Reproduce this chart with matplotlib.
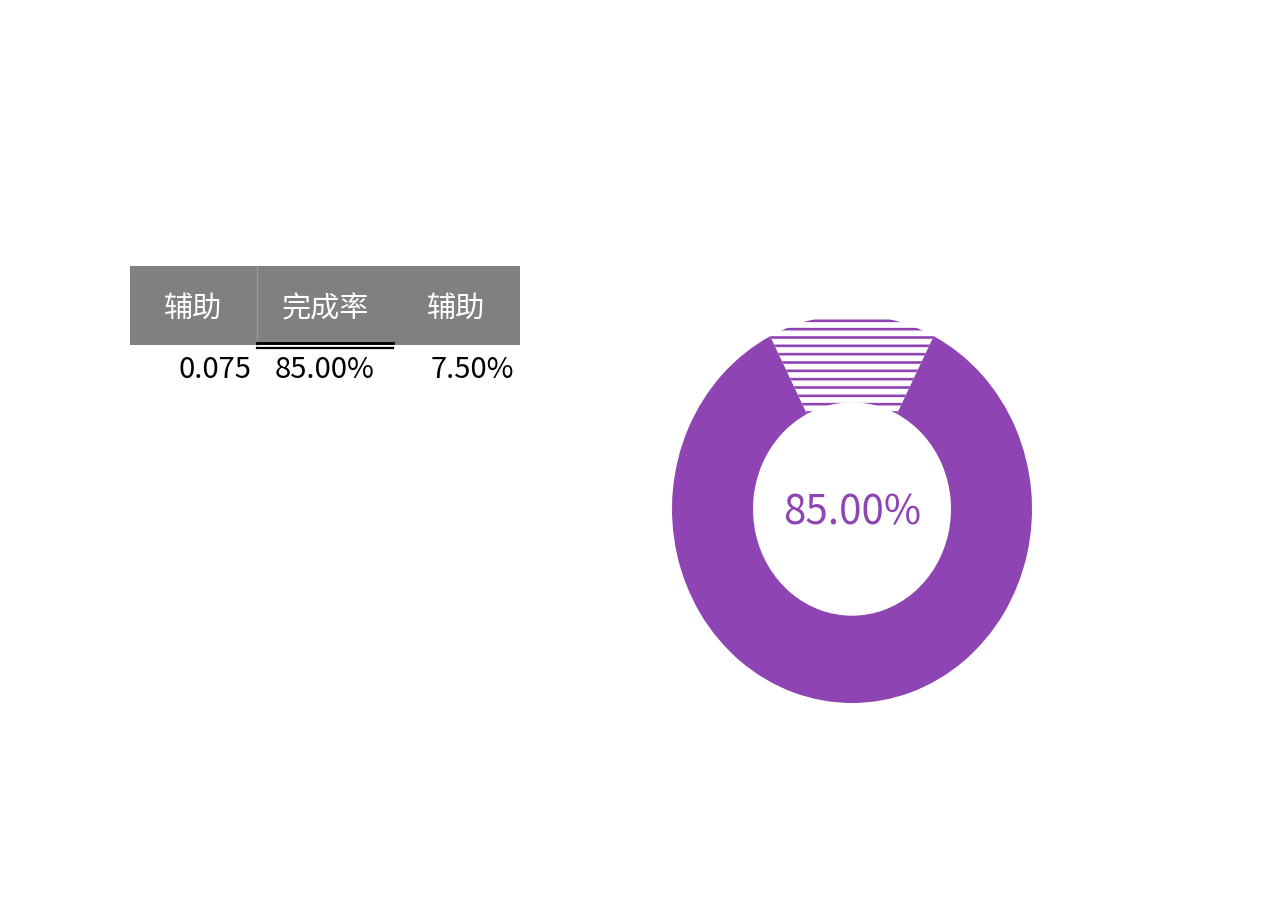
import matplotlib.pyplot as plt
from matplotlib.patches import Rectangle

plt.rcParams['font.family'] = ['Noto Sans CJK SC', 'DejaVu Sans']
plt.rcParams['hatch.linewidth'] = 1.9

# table data
headers = ['辅助', '完成率', '辅助']
values = [0.075, 0.85, 0.075]
value_labels = ['0.075', '85.00%', '7.50%']

purple = '#8e44b2'

fig = plt.figure(figsize=(12.8, 9.09), dpi=100)
W, H = 1280, 909

def fx(x):
    return x / W

def fy(y):
    return 1 - y / H

# header band of the table
col_edges = [130, 257, 393, 520]
fig.patches.append(Rectangle((fx(130), fy(345)), fx(520 - 130), (345 - 266) / H,
                             transform=fig.transFigure, facecolor='#808080',
                             edgecolor='none'))
fig.add_artist(plt.Line2D([fx(257), fx(257)], [fy(345), fy(266)],
                          transform=fig.transFigure, color='#9a9a9a', lw=0.8))
for i, h in enumerate(headers):
    cx = (col_edges[i] + col_edges[i + 1]) / 2
    fig.text(fx(cx), fy(309), h, color='white', fontsize=21,
             ha='center', va='center')

# double underline under the middle header
for yy, lw in [(343, 2.0), (348, 1.6)]:
    fig.add_artist(plt.Line2D([fx(257), fx(393)], [fy(yy), fy(yy)],
                              transform=fig.transFigure, color='black', lw=lw))

fig.text(fx(251), fy(370), value_labels[0], fontsize=21, ha='right', va='center')
fig.text(fx(325), fy(370), value_labels[1], fontsize=21, ha='center', va='center')
fig.text(fx(514), fy(370), value_labels[2], fontsize=21, ha='right', va='center')

# donut
ax = fig.add_axes([fx(672), fy(703), fx(1032 - 672), (703 - 315) / H])
wedges, _ = ax.pie(values, startangle=90, counterclock=False, radius=1,
                   colors=['white', purple, 'white'],
                   wedgeprops=dict(width=0.45, linewidth=0))
for i in (0, 2):
    wedges[i].set_hatch('--')
    wedges[i].set_edgecolor(purple)
    wedges[i].set_linewidth(0)
ax.set_aspect('auto')
ax.set_xlim(-1, 1)
ax.set_ylim(-1, 1)
ax.axis('off')

ax.text(0, -0.02, f'{values[1]:.2%}', color=purple, fontsize=29,
        fontweight='light', family=['Noto Sans CJK SC', 'DejaVu Sans'],
        ha='center', va='center')

fig.savefig('out.png', dpi=100)
